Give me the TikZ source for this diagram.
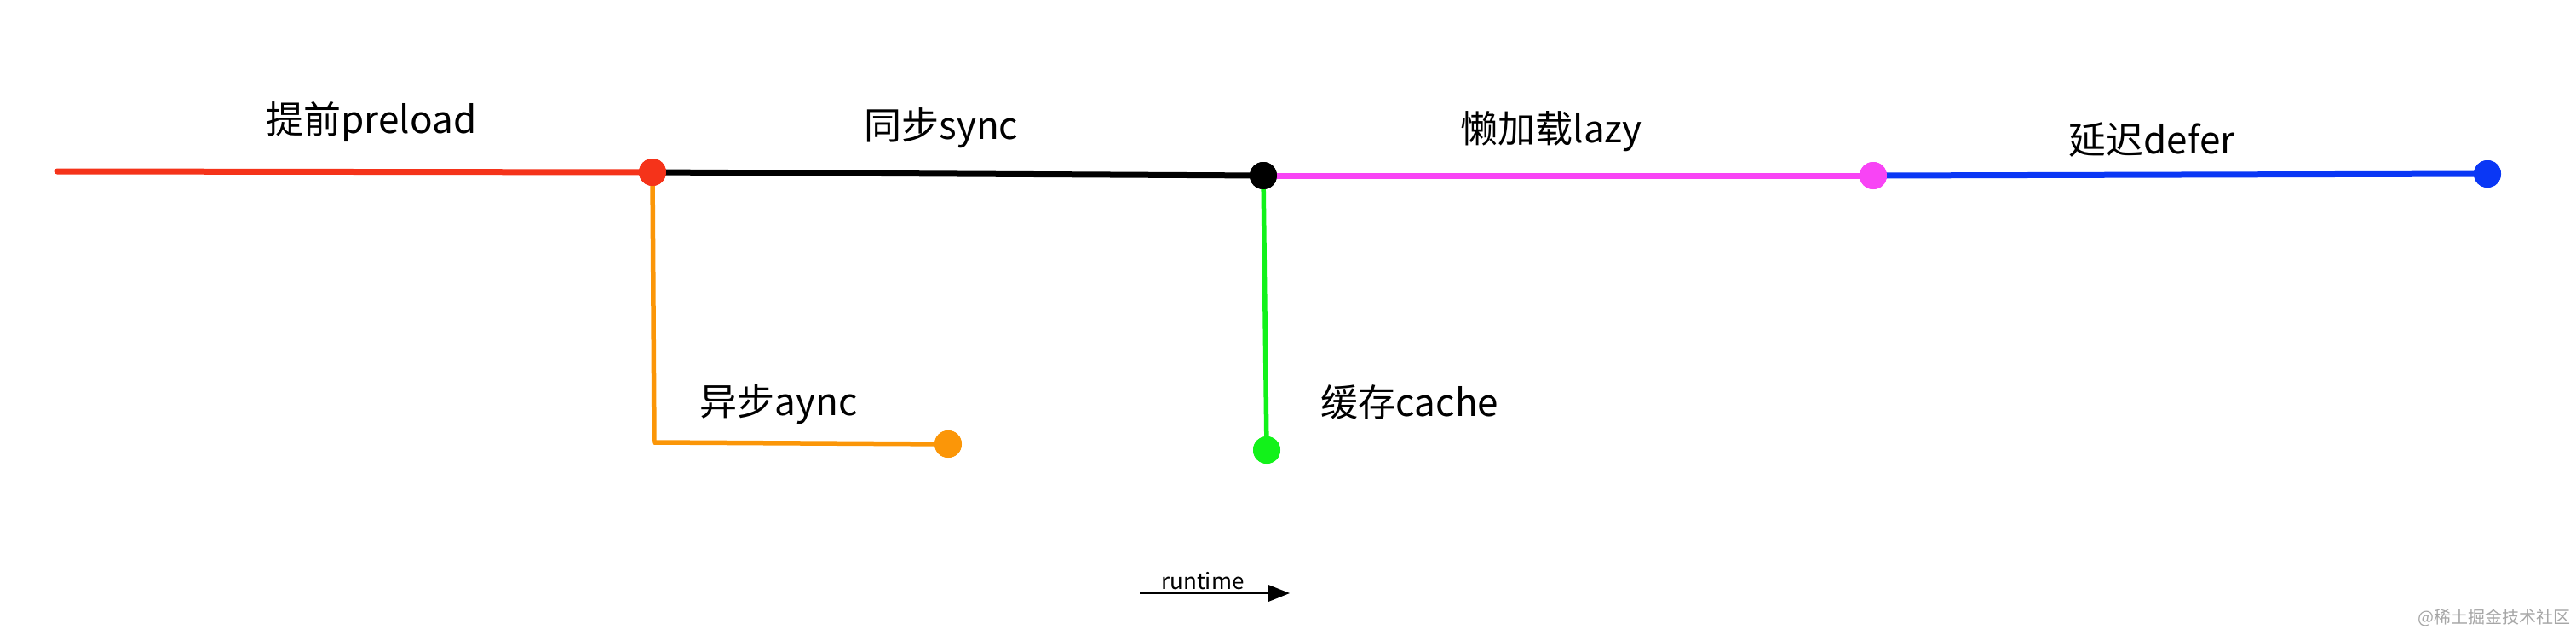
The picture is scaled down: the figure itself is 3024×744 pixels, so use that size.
\documentclass[tikz,border=0pt]{standalone}
\usepackage{fontspec}
\setmainfont{Noto Sans CJK SC}
\usetikzlibrary{arrows.meta}
\definecolor{cred}{HTML}{F5331A}
\definecolor{corange}{HTML}{FB9608}
\definecolor{cgreen}{HTML}{12F21A}
\definecolor{cpink}{HTML}{F844F5}
\definecolor{cblue}{HTML}{0A37F5}
\tikzset{
  dot/.style={circle,inner sep=0pt,minimum size=32pt,fill=#1},
  seg/.style={line width=7pt,draw=#1,line cap=round},
  branch/.style={line width=5.5pt,draw=#1},
  lbl/.style={font=\fontsize{44}{50}\selectfont,inner sep=0pt}
}
\begin{document}
\begin{tikzpicture}[x=1pt,y=-1pt]
\useasboundingbox (0,0) rectangle (3024,744);
\coordinate (s) at (67,201);
\node[dot=cred] (r) at (766,202) {};
\node[dot=black] (k) at (1483,206) {};
\node[dot=cpink] (p) at (2199,206) {};
\node[dot=cblue] (b) at (2920,204) {};
\coordinate (oc) at (768,519);
\node[dot=corange] (o) at (1113,521) {};
\node[dot=cgreen] (g) at (1487,528) {};
\draw[seg=cred] (s) -- (r.center);
\draw[seg=black] (r.center) -- (k.center);
\draw[seg=cpink] (k.center) -- (p.center);
\draw[seg=cblue] (p.center) -- (b.center);
\draw[branch=corange,line join=round] (r.center) -- (oc) -- (o.center);
\draw[branch=cgreen] (k.center) -- (g.center);
\node[dot=cred] at (r) {};
\node[dot=black] at (k) {};
\node[dot=cpink] at (p) {};
\node[dot=cblue] at (b) {};
\node[dot=corange] at (o) {};
\node[dot=cgreen] at (g) {};
\node[lbl] (t1) at (436,143) {提前preload};
\node[lbl] (t2) at (1105,150) {同步sync};
\node[lbl] (t3) at (1821,154) {懒加载lazy};
\node[lbl] (t4) at (2526,164) {延迟defer};
\node[lbl] (t5) at (914,474) {异步aync};
\node[lbl] (t6) at (1655,472) {缓存cache};
\coordinate (a1) at (1338,696);
\coordinate (a2) at (1514,696);
\draw[line width=2.5pt,-{Triangle[length=26pt,width=20pt]}] (a1) -- (a2);
\node[font=\fontsize{26}{30}\selectfont,inner sep=0pt] (rt) at (1412,682) {runtime};
\node[font=\fontsize{20}{24}\selectfont,text=gray!70,inner sep=0pt] (wm) at (2928,725) {@稀土掘金技术社区};
\end{tikzpicture}
\end{document}
